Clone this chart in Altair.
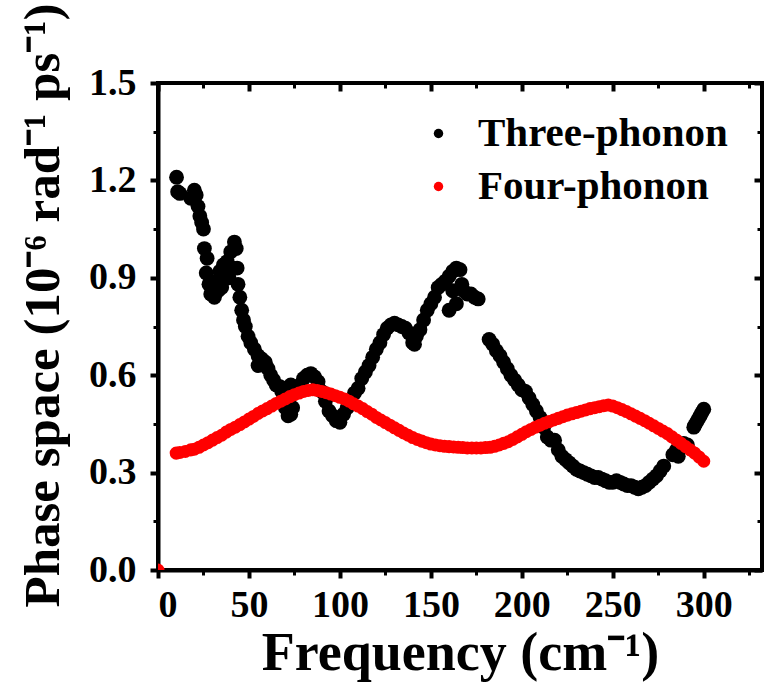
import altair as alt
import pandas as pd

# Three-phonon phase space
three_f = [10.2, 10.8, 12, 18, 20, 21, 22, 23, 24, 25, 25.5, 27, 26.5, 28, 29, 31, 30, 32, 34, 36,
           38, 40, 42, 43, 41, 39, 35, 33,
           43.5, 44, 45, 46, 47, 48, 49.5, 51, 53, 55, 55, 57, 59, 60.5, 62, 63.5, 65, 67, 68, 69,
           70, 71.5, 73, 74, 73, 76, 78, 80, 82, 84, 86, 88, 90, 92, 94, 96, 98, 100, 102, 104,
           106, 108,
           110, 112, 114, 116, 118, 120, 122, 124, 126, 128, 130, 132, 134, 136, 138, 140, 141,
           142, 144, 146, 148, 150, 152, 154, 156, 158, 160, 162, 164, 166, 167, 168, 162, 160,
           164, 170, 172, 174, 176,
           182, 184, 186, 188, 190, 192, 194, 196, 198, 200, 202, 204, 206, 208, 210, 212, 214,
           216, 218, 220, 222, 224, 226, 228, 230, 232, 234, 236, 238, 240, 242, 244, 246, 248,
           250, 252, 254, 256, 258, 260, 262, 264, 266, 268, 270, 272, 274, 276, 278,
           283, 285, 287, 289, 291, 286,
           294.5, 295, 296, 297, 298, 299, 300]
three_v = [1.21, 1.165, 1.16, 1.145, 1.17, 1.155, 1.12, 1.09, 1.07, 1.05, 0.99, 0.96, 0.915, 0.88,
           0.85, 0.84, 0.87, 0.89, 0.92, 0.94, 0.95, 0.98, 1.01, 0.99, 0.93, 0.90, 0.87, 0.86,
           0.93, 0.88, 0.84, 0.80, 0.77, 0.75, 0.72, 0.70, 0.68, 0.66, 0.63, 0.65, 0.64, 0.62,
           0.60, 0.585, 0.57, 0.565, 0.55, 0.52, 0.50, 0.475, 0.48, 0.50, 0.57, 0.55, 0.57, 0.59,
           0.60, 0.605, 0.595, 0.58, 0.55, 0.52, 0.49, 0.475, 0.46, 0.455, 0.48, 0.50, 0.52, 0.545,
           0.56, 0.59, 0.61, 0.63, 0.655, 0.68, 0.70, 0.725, 0.745, 0.755, 0.76, 0.755, 0.75,
           0.745, 0.73, 0.70, 0.695, 0.72, 0.74, 0.77, 0.80, 0.82, 0.84, 0.87, 0.88, 0.89, 0.905,
           0.92, 0.93, 0.925, 0.88, 0.86, 0.86, 0.80, 0.82, 0.85, 0.85, 0.84, 0.835,
           0.71, 0.695, 0.675, 0.66, 0.64, 0.62, 0.60, 0.585, 0.57, 0.555, 0.55, 0.53, 0.51, 0.49,
           0.47, 0.44, 0.41, 0.40, 0.40, 0.37, 0.35, 0.34, 0.33, 0.32, 0.31, 0.305, 0.30, 0.295,
           0.29, 0.285, 0.285, 0.28, 0.275, 0.27, 0.27, 0.275, 0.27, 0.265, 0.26, 0.26, 0.255,
           0.25, 0.255, 0.26, 0.27, 0.28, 0.29, 0.305, 0.32,
           0.355, 0.37, 0.38, 0.39, 0.385, 0.35,
           0.44, 0.445, 0.455, 0.465, 0.475, 0.485, 0.495]

# Four-phonon phase space
four_f = [0, 10, 12, 15, 18, 20, 22.5, 25, 27.5, 30, 32.5, 35, 37.5, 40, 42.5, 45, 47.5, 50, 52.5,
          55, 57.5, 60, 62.5, 65, 67.5, 70, 72.5, 75, 77.5, 80, 82.5, 85, 87.5, 90, 92.5, 95,
          97.5, 100, 102.5, 105, 107.5, 110, 112.5, 115, 117.5, 120, 122.5, 125, 127.5, 130,
          132.5, 135, 137.5, 140, 142.5, 145, 147.5, 150, 152.5, 155, 157.5, 160, 162.5, 165,
          167.5, 170, 172.5, 175, 177.5, 180, 182.5, 185, 187.5, 190, 192.5, 195, 197.5, 200,
          202.5, 205, 207.5, 210, 212.5, 215, 217.5, 220, 222.5, 225, 227.5, 230, 232.5, 235,
          237.5, 240, 242.5, 245, 247.5, 250, 252.5, 255, 257.5, 260, 262.5, 265, 267.5, 270,
          272.5, 275, 277.5, 280, 282.5, 285, 287.5, 290, 292.5, 295, 297.5, 300]
four_v = [0.0, 0.36, 0.362, 0.365, 0.37, 0.372, 0.378, 0.385, 0.392, 0.40, 0.408, 0.415, 0.425,
          0.433, 0.44, 0.448, 0.456, 0.465, 0.473, 0.482, 0.49, 0.497, 0.505, 0.513, 0.52, 0.527,
          0.534, 0.54, 0.545, 0.55, 0.553, 0.555, 0.553, 0.55, 0.546, 0.542, 0.537, 0.532, 0.527,
          0.52, 0.512, 0.505, 0.497, 0.488, 0.48, 0.47, 0.462, 0.454, 0.446, 0.438, 0.43, 0.422,
          0.415, 0.408, 0.402, 0.397, 0.392, 0.388, 0.385, 0.383, 0.381, 0.38, 0.379, 0.378,
          0.377, 0.376, 0.376, 0.376, 0.376, 0.377, 0.378, 0.381, 0.385, 0.39, 0.395, 0.402,
          0.41, 0.418, 0.426, 0.433, 0.44, 0.446, 0.452, 0.457, 0.462, 0.467, 0.472, 0.477,
          0.481, 0.485, 0.489, 0.493, 0.497, 0.5, 0.503, 0.506, 0.508, 0.505, 0.5, 0.494, 0.488,
          0.481, 0.474, 0.467, 0.46, 0.452, 0.444, 0.436, 0.428, 0.42, 0.41, 0.40, 0.39, 0.38,
          0.37, 0.36, 0.348, 0.335]

series_names = ["Three-phonon", "Four-phonon"]
series_colors = ["#000000", "#ff0000"]
x_ticks = [0, 50, 100, 150, 200, 250, 300]
x_minor = [25, 75, 125, 175, 225, 275, 325]
y_ticks = [0.0, 0.3, 0.6, 0.9, 1.2, 1.5]
y_minor = [0.15, 0.45, 0.75, 1.05, 1.35]

df3 = pd.DataFrame({"f": three_f, "v": three_v, "s": series_names[0]})
df4 = pd.DataFrame({"f": four_f, "v": four_v, "s": series_names[1]})
dfall = pd.concat([df3, df4], ignore_index=True)

FONT = "Liberation Serif"
xs = alt.Scale(domain=[0, 332], nice=False, zero=False)
ys = alt.Scale(domain=[0, 1.5], nice=False, zero=False)
color = alt.Color("s:N", scale=alt.Scale(domain=series_names, range=series_colors),
                  legend=alt.Legend(title=None, orient="none", legendX=260, legendY=30,
                                    labelFontSize=41, labelFont=FONT, labelFontWeight="bold",
                                    labelColor="black", symbolSize=90, symbolType="circle",
                                    symbolStrokeWidth=0, labelOffset=19, rowPadding=11,
                                    padding=0, labelLimit=400))

main_x_axis = alt.Axis(values=x_ticks, format="d", title="Frequency (cm⁻¹)", orient="bottom",
                       tickSize=8, tickWidth=4, labelPadding=8, domainWidth=4,
                       titleX=302, titleY=99, titleBaseline="alphabetic", titleAlign="center")
main_y_axis = alt.Axis(values=y_ticks, format=".1f", title="Phase space (10⁻⁶ rad⁻¹ ps⁻¹)",
                       orient="left", tickSize=8, tickWidth=4, labelPadding=14, domainWidth=4,
                       titleX=-100, titleY=222, titleBaseline="alphabetic", titleAlign="center",
                       titleAngle=270, titleFontSize=51)

black = alt.Chart(df3).mark_circle(size=220, opacity=1).encode(
    x=alt.X("f:Q", scale=xs, axis=main_x_axis),
    y=alt.Y("v:Q", scale=ys, axis=main_y_axis),
    color=color,
)

red = alt.Chart(df4).mark_circle(size=170, opacity=1, clip=True).encode(
    x=alt.X("f:Q", scale=xs, axis=alt.Axis(values=x_minor, labels=False, title=None, domain=False,
                                           tickSize=5, tickWidth=3, orient="bottom", grid=False)),
    y=alt.Y("v:Q", scale=ys, axis=alt.Axis(values=y_minor, labels=False, title=None, domain=False,
                                           tickSize=5, tickWidth=3, orient="left", grid=False)),
    color=color,
)

frame_major = alt.Chart(dfall).mark_circle(opacity=0).encode(
    x=alt.X("f:Q", scale=xs, axis=alt.Axis(values=x_ticks, labels=False, title=None, domain=False,
                                           tickSize=8, tickWidth=4, orient="top", offset=-8)),
    y=alt.Y("v:Q", scale=ys, axis=alt.Axis(values=y_ticks, labels=False, title=None, domain=False,
                                           tickSize=8, tickWidth=4, orient="right", offset=-8)),
)

frame_minor = alt.Chart(dfall).mark_circle(opacity=0).encode(
    x=alt.X("f:Q", scale=xs, axis=alt.Axis(values=x_minor, labels=False, title=None, domain=False,
                                           tickSize=5, tickWidth=3, orient="top", offset=-5)),
    y=alt.Y("v:Q", scale=ys, axis=alt.Axis(values=y_minor, labels=False, title=None, domain=False,
                                           tickSize=5, tickWidth=3, orient="right", offset=-5)),
)

chart = alt.layer(black, red, frame_major, frame_minor).resolve_axis(
    x="independent", y="independent"
).properties(
    width=604, height=487,
    autosize=alt.AutoSizeParams(type="none"),
    padding={"left": 158, "top": 83, "right": 3, "bottom": 116},
    background="white",
).configure_view(
    stroke="black", strokeWidth=4
).configure_axis(
    labelFont=FONT, labelFontSize=38, labelFontWeight="bold", labelColor="black",
    titleFont=FONT, titleFontSize=54, titleFontWeight="bold", titleColor="black",
    domainColor="black", tickColor="black", grid=False,
)

chart.save("out.html", embed_options={"renderer": "svg", "actions": False})
